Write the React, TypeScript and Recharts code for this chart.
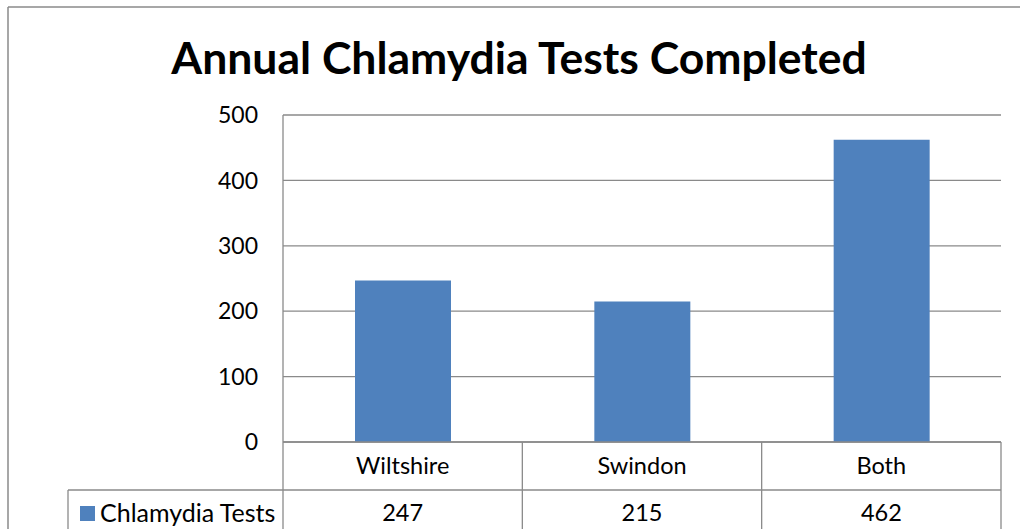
import React from 'react';
import { BarChart, Bar, XAxis, YAxis, CartesianGrid } from 'recharts';

const categories = ['Wiltshire', 'Swindon', 'Both'];
const testValues = [247, 215, 462];
const yTicks = [0, 100, 200, 300, 400, 500];
const seriesName = 'Chlamydia Tests';
const chartTitle = 'Annual Chlamydia Tests Completed';

const data = categories.map((c, i) => ({ category: c, value: testValues[i] }));

const W = 1020;
const H = 529;
const PLOT_LEFT = 283;
const PLOT_RIGHT = 1001;
const PLOT_TOP = 115;
const PLOT_BOTTOM = 442;
const ROW_SPLIT = 490;
const TABLE_LEFT = 68;
const LINE = '#8a8a8a';
const BAR = '#4F81BD';
const FONT = 'Lato, "Open Sans", sans-serif';
const BW = (PLOT_RIGHT - PLOT_LEFT) / categories.length;

const TableTick = (props: any) => {
  const { x, payload, index } = props;
  const cx = x;
  const l = cx - BW / 2;
  const r = cx + BW / 2;
  const i = typeof index === 'number' ? index : categories.indexOf(payload.value);
  return (
    <g>
      <line x1={r} y1={PLOT_BOTTOM} x2={r} y2={H} stroke={LINE} strokeWidth={1.3} />
      <line x1={l} y1={ROW_SPLIT} x2={r} y2={ROW_SPLIT} stroke={LINE} strokeWidth={1.3} />
      {i === 0 && (
        <g>
          <line x1={l} y1={PLOT_BOTTOM} x2={l} y2={H} stroke={LINE} strokeWidth={1.3} />
          <line x1={TABLE_LEFT} y1={ROW_SPLIT} x2={l} y2={ROW_SPLIT} stroke={LINE} strokeWidth={1.3} />
          <line x1={TABLE_LEFT} y1={ROW_SPLIT} x2={TABLE_LEFT} y2={H} stroke={LINE} strokeWidth={1.3} />
          <rect x={80} y={506} width={15} height={15} fill={BAR} />
          <text x={100} y={513} dy="0.36em" fontSize={25} fontFamily={FONT} fill="#000">
            {seriesName}
          </text>
        </g>
      )}
      <text x={cx} y={466} dy="0.36em" textAnchor="middle" fontSize={23.5} fontFamily={FONT} fill="#000">
        {payload.value}
      </text>
      <text x={cx} y={513} dy="0.36em" textAnchor="middle" fontSize={23.5} fontFamily={FONT} fill="#000">
        {testValues[i]}
      </text>
    </g>
  );
};

export default function App() {
  return (
    <div style={{ position: 'absolute', left: 0, top: 0, width: W, height: H, overflow: 'hidden', background: '#fff' }}>
      <svg width={W} height={H} style={{ position: 'absolute', left: 0, top: 0 }}>
        <line x1={8} y1={7} x2={W} y2={7} stroke={LINE} strokeWidth={1.5} />
        <line x1={8} y1={7} x2={8} y2={H} stroke={LINE} strokeWidth={1.5} />
        <text x={519} y={74} textAnchor="middle" fontSize={44.5} fontWeight="bold" fontFamily={FONT} fill="#000">
          {chartTitle}
        </text>
      </svg>
      <div style={{ position: 'absolute', left: 0, top: 0 }}>
        <BarChart
          width={W}
          height={H}
          data={data}
          margin={{ top: PLOT_TOP, right: W - PLOT_RIGHT, bottom: 0, left: 0 }}
        >
          <CartesianGrid horizontal vertical={false} stroke={LINE} strokeWidth={1.3} />
          <XAxis
            dataKey="category"
            height={H - PLOT_BOTTOM}
            axisLine={{ stroke: LINE, strokeWidth: 1.3 }}
            tickLine={false}
            tickSize={0}
            tickMargin={0}
            interval={0}
            tick={<TableTick />}
          />
          <YAxis
            width={PLOT_LEFT}
            domain={[0, 500]}
            ticks={yTicks}
            axisLine={{ stroke: LINE, strokeWidth: 1.3 }}
            tickLine={false}
            tickSize={0}
            tickMargin={25}
            tick={{ fill: '#000', fontSize: 23, fontFamily: FONT }}
          />
          <Bar dataKey="value" fill={BAR} barSize={96} isAnimationActive={false} />
        </BarChart>
      </div>
    </div>
  );
}
